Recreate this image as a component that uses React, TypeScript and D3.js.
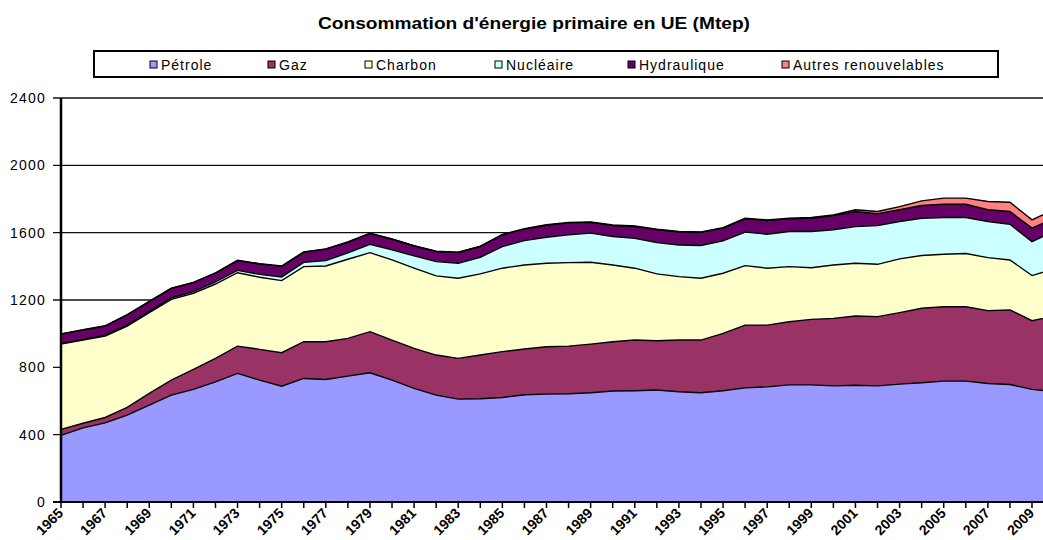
import React from "react";
import * as d3 from "d3";

const width = 1043;
const height = 540;
const plot = { left: 61, top: 98, bottom: 502 };

const years = [
  1965, 1966, 1967, 1968, 1969, 1970, 1971, 1972, 1973, 1974,
  1975, 1976, 1977, 1978, 1979, 1980, 1981, 1982, 1983, 1984,
  1985, 1986, 1987, 1988, 1989, 1990, 1991, 1992, 1993, 1994,
  1995, 1996, 1997, 1998, 1999, 2000, 2001, 2002, 2003, 2004,
  2005, 2006, 2007, 2008, 2009, 2010,
];

// Mtep
const petrole = [
  396, 440, 470, 516, 575, 635, 669, 714, 764, 724,
  688, 734, 728, 748, 768, 724, 675, 635, 611, 613,
  621, 637, 641, 643, 649, 659, 661, 665, 655, 649,
  661, 678, 684, 696, 696, 690, 694, 690, 700, 708,
  718, 718, 704, 698, 669, 655,
];
const gaz = [
  35, 28, 32, 46, 70, 89, 119, 139, 162, 183,
  199, 218, 224, 224, 244, 238, 238, 238, 242, 260,
  272, 272, 281, 283, 289, 293, 301, 293, 307, 313,
  341, 373, 367, 375, 389, 401, 411, 411, 425, 443,
  442, 442, 433, 443, 408, 450,
];
const charbon = [
  507, 494, 484, 483, 480, 480, 452, 442, 436, 428,
  428, 446, 450, 470, 469, 476, 476, 470, 476, 482,
  496, 499, 496, 496, 486, 456, 427, 397, 377, 367,
  357, 353, 338, 327, 307, 317, 313, 311, 319, 313,
  312, 316, 315, 297, 268, 280,
];
const nucleaire = [
  3, 4, 5, 6, 7, 8, 10, 12, 14, 17,
  22, 26, 32, 38, 50, 60, 73, 85, 89, 99,
  128, 145, 155, 165, 173, 169, 178, 186, 188, 195,
  192, 199, 202, 209, 215, 209, 218, 230, 222, 222,
  218, 214, 214, 212, 202, 222,
];
const hydraulique = [
  56, 56, 54, 60, 58, 57, 53, 52, 58, 62,
  63, 60, 68, 63, 64, 63, 59, 60, 64, 63,
  70, 68, 71, 71, 64, 66, 70, 77, 77, 78,
  76, 79, 81, 75, 79, 85, 90, 70, 70, 75,
  79, 79, 70, 76, 80, 78,
];
const autres = [
  2, 2, 2, 2, 2, 2, 2, 2, 2, 2,
  2, 2, 2, 2, 2, 2, 2, 2, 2, 3,
  3, 3, 3, 3, 3, 3, 3, 3, 3, 3,
  3, 4, 4, 4, 4, 4, 10, 14, 19, 28,
  36, 36, 49, 55, 49, 51,
];

const seriesNames = ["Pétrole", "Gaz", "Charbon", "Nucléaire", "Hydraulique", "Autres renouvelables"];
const seriesValues = [petrole, gaz, charbon, nucleaire, hydraulique, autres];
const colors = ["#9999ff", "#993366", "#ffffcc", "#ccffff", "#660066", "#ff8080"];
const yTicks = [0, 400, 800, 1200, 1600, 2000, 2400];
const labelYears = years.filter((y) => y % 2 === 1);

const legendX = [150, 268, 365, 495, 628, 782];

export default function App() {
  const x = d3.scaleLinear().domain([1965, 2009]).range([plot.left, 1032]);
  const y = d3.scaleLinear().domain([0, 2400]).range([plot.bottom, plot.top]);

  const rows = years.map((yr, i) => {
    const row: Record<string, number> = { year: yr };
    seriesNames.forEach((n, k) => (row[n] = seriesValues[k][i]));
    return row;
  });
  const stacked = d3.stack<Record<string, number>>().keys(seriesNames)(rows);

  const area = d3
    .area<d3.SeriesPoint<Record<string, number>>>()
    .x((d) => x(d.data.year))
    .y0((d) => y(d[0]))
    .y1((d) => y(d[1]));
  const topLine = d3
    .line<d3.SeriesPoint<Record<string, number>>>()
    .x((d) => x(d.data.year))
    .y((d) => y(d[1]));

  return (
    <svg
      width={width}
      height={height}
      style={{ position: "absolute", left: 0, top: 0, background: "#fff" }}
      fontFamily="Arial, 'Liberation Sans', sans-serif"
    >
      <rect width={width} height={height} fill="#fff" />

      <text
        x={534}
        y={29}
        textAnchor="middle"
        fontSize={17}
        fontWeight="bold"
        textLength={432}
        lengthAdjust="spacingAndGlyphs"
      >
        Consommation d'énergie primaire en UE (Mtep)
      </text>

      <rect x={94} y={51} width={904} height={26} fill="#fff" stroke="#000" strokeWidth={2} />
      {seriesNames.map((n, i) => (
        <g key={n}>
          <rect x={legendX[i]} y={61} width={7} height={7} fill={colors[i]} stroke="#000" strokeWidth={1} />
          <text x={legendX[i] + 11} y={69.5} fontSize={14} letterSpacing={1} fill="#000">
            {n}
          </text>
        </g>
      ))}

      {yTicks.map((t) => (
        <g key={t}>
          {t > 0 && (
            <line x1={53} x2={width} y1={y(t)} y2={y(t)} stroke="#111" strokeWidth={1.3} />
          )}
          <text x={46} y={y(t)} dy="0.36em" textAnchor="end" fontSize={14} letterSpacing={1.2}>
            {t}
          </text>
        </g>
      ))}

      {stacked.map((s, i) => (
        <path key={s.key} d={area(s) || ""} fill={colors[i]} />
      ))}
      {stacked.map((s) => (
        <path key={s.key + "-l"} d={topLine(s) || ""} fill="none" stroke="#000" strokeWidth={1.4} />
      ))}

      <line x1={plot.left} x2={plot.left} y1={plot.top} y2={plot.bottom + 1} stroke="#000" strokeWidth={2.5} />
      <line x1={53} x2={width} y1={plot.bottom} y2={plot.bottom} stroke="#000" strokeWidth={2} />
      {years.map((yr) => (
        <line key={yr} x1={x(yr)} x2={x(yr)} y1={plot.bottom} y2={plot.bottom + 6} stroke="#000" strokeWidth={1.5} />
      ))}
      {labelYears.map((yr) => (
        <text
          key={yr}
          transform={`translate(${x(yr) + 3},${plot.bottom + 12}) rotate(-45)`}
          textAnchor="end"
          fontSize={14}
          fontWeight="bold"
        >
          {yr}
        </text>
      ))}
    </svg>
  );
}
